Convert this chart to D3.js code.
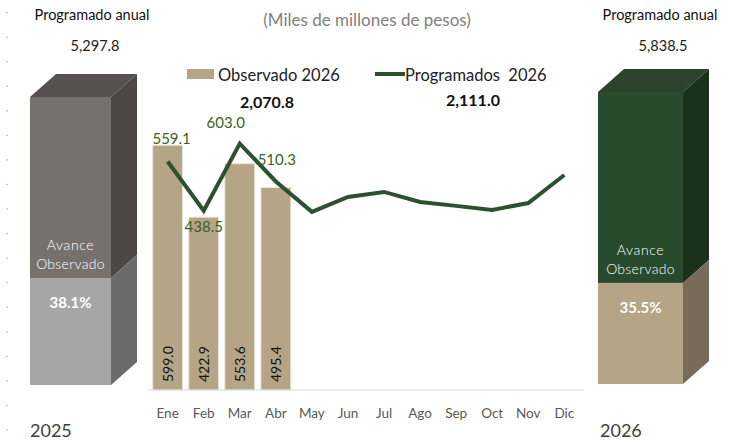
<!DOCTYPE html>
<html>
<head>
<meta charset="utf-8">
<script src="https://cdn.jsdelivr.net/npm/d3@7"></script>
<style>
  body { margin: 0; background: #fff; }
  svg { display: block; font-family: Lato, 'Open Sans', sans-serif; }
</style>
</head>
<body>
<svg width="730" height="442"></svg>
<script>
const months = ['Ene', 'Feb', 'Mar', 'Abr', 'May', 'Jun', 'Jul', 'Ago', 'Sep', 'Oct', 'Nov', 'Dic']
const observado2026 = [599.0, 422.9, 553.6, 495.4]
const programados2026 = [559.1, 438.5, 603.0, 510.3, 435.8, 472.3, 484.6, 460.2, 450.5, 440.6, 457.5, 526.0]
const labeledPoints = 4
const totalObservado = '2,070.8'
const totalProgramado = '2,111.0'
const years = ['2025', '2026']
const annual = [5297.8, 5838.5]
const avance = [38.1, 35.5]

// label nudges for the line values (dx, dy)
const lineLabelOffset = [[4, -17], [0, 21], [-14, -16], [1, -16]]

const svg = d3.select('svg')
const fmt = d3.format(',.1f')

const x = d3.scaleBand()
            .domain(months)
            .range([148, 584])
            .paddingInner(0.17)
            .paddingOuter(0.13)
const y = d3.scaleLinear().domain([0, 700]).range([390, 390 - 700 * 0.4087])

// left dashes
svg.append('g').selectAll('rect')
   .data(d3.range(18))
   .enter().append('rect')
   .attr('x', 6).attr('y', i => 12 + i * 24.55)
   .attr('width', 2).attr('height', 1.2)
   .attr('fill', '#bfbfbf')

// title
svg.append('text')
   .attr('x', 367).attr('y', 26)
   .attr('text-anchor', 'middle')
   .attr('font-size', 17).attr('fill', '#7f7f7f')
   .text('(Miles de millones de pesos)')

// legend
const leg = svg.append('g')
leg.append('rect').attr('x', 187).attr('y', 69).attr('width', 27).attr('height', 10).attr('fill', '#b5a486')
leg.append('text').attr('x', 218).attr('y', 81).attr('font-size', 16.5).attr('fill', '#222').text('Observado 2026')
leg.append('line').attr('x1', 375).attr('x2', 405).attr('y1', 74).attr('y2', 74)
   .attr('stroke', '#2b5130').attr('stroke-width', 4)
leg.append('text').attr('x', 405).attr('y', 81).attr('font-size', 16.5).attr('fill', '#222')
   .attr('xml:space', 'preserve').text('Programados  2026')
leg.append('text').attr('x', 267).attr('y', 108).attr('text-anchor', 'middle')
   .attr('font-size', 16).attr('font-weight', 'bold').attr('fill', '#111').text(totalObservado)
leg.append('text').attr('x', 473).attr('y', 106).attr('text-anchor', 'middle')
   .attr('font-size', 16).attr('font-weight', 'bold').attr('fill', '#111').text(totalProgramado)

// bars
svg.append('g').selectAll('rect')
   .data(observado2026)
   .enter().append('rect')
   .attr('x', (d, i) => x(months[i]))
   .attr('y', d => y(d))
   .attr('width', x.bandwidth())
   .attr('height', d => y(0) - y(d))
   .attr('fill', '#b5a486')
   .attr('stroke', '#ece6dc').attr('stroke-width', 1)

svg.append('g').selectAll('text')
   .data(observado2026)
   .enter().append('text')
   .attr('transform', (d, i) => `translate(${x(months[i]) + x.bandwidth() / 2 + 5},${y(0) - 8}) rotate(-90)`)
   .attr('font-size', 14).attr('fill', '#111')
   .text(d => fmt(d))

// axis line
svg.append('line')
   .attr('x1', 148).attr('x2', 584).attr('y1', y(0)).attr('y2', y(0))
   .attr('stroke', '#d9d9d9').attr('stroke-width', 1)

svg.append('g').selectAll('text')
   .data(months)
   .enter().append('text')
   .attr('x', d => x(d) + x.bandwidth() / 2)
   .attr('y', 418)
   .attr('text-anchor', 'middle')
   .attr('font-size', 13.5).attr('fill', '#595959')
   .text(d => d)

// line
const line = d3.line()
               .x((d, i) => x(months[i]) + x.bandwidth() / 2)
               .y(d => y(d))
svg.append('path')
   .datum(programados2026)
   .attr('d', line)
   .attr('fill', 'none')
   .attr('stroke', '#2b5130')
   .attr('stroke-width', 4)
   .attr('stroke-linejoin', 'miter')

svg.append('g').selectAll('text')
   .data(programados2026.slice(0, labeledPoints))
   .enter().append('text')
   .attr('x', (d, i) => x(months[i]) + x.bandwidth() / 2 + lineLabelOffset[i][0])
   .attr('y', (d, i) => y(d) + lineLabelOffset[i][1])
   .attr('text-anchor', 'middle')
   .attr('font-size', 15).attr('fill', '#3f5f2a')
   .text(d => fmt(d))

// 3D boxes
const boxes = [
  { left: 30, right: 111, top: 97, bottom: 385, cx: 92, yearX: 30,
    top1: '#77716e', side1: '#4d4845', cap: '#575251', low: '#a6a6a6', lowSide: '#6b6b6b' },
  { left: 598, right: 683, top: 92, bottom: 384, cx: 660, yearX: 600,
    top1: '#284a2d', side1: '#1c311c', cap: '#2b432c', low: '#b5a486', lowSide: '#786b57' }
]
const dx = 26, dy = -23

boxes.forEach((b, k) => {
  const g = svg.append('g')
  const h = d3.scaleLinear().domain([0, 100]).range([b.bottom, b.top])
  const split = h(avance[k] * 0.975)
  const poly = pts => g.append('polygon').attr('points', pts.map(p => p.join(',')).join(' '))

  // top cap
  poly([[b.left, b.top], [b.left + dx, b.top + dy], [b.right + dx, b.top + dy], [b.right, b.top]]).attr('fill', b.cap)
  // upper side
  poly([[b.right, b.top], [b.right + dx, b.top + dy], [b.right + dx, split + dy], [b.right, split]]).attr('fill', b.side1)
  // lower side
  poly([[b.right, split], [b.right + dx, split + dy], [b.right + dx, b.bottom + dy], [b.right, b.bottom]]).attr('fill', b.lowSide)
  // fronts
  g.append('rect').attr('x', b.left).attr('y', b.top).attr('width', b.right - b.left)
   .attr('height', split - b.top).attr('fill', b.top1)
  g.append('rect').attr('x', b.left).attr('y', split).attr('width', b.right - b.left)
   .attr('height', b.bottom - split).attr('fill', b.low)

  const mid = (b.left + b.right) / 2
  g.append('text').attr('x', mid).attr('y', split - 28).attr('text-anchor', 'middle')
   .attr('font-size', 14).attr('font-weight', 300).attr('letter-spacing', 0.6)
   .attr('fill', '#fff').text('Avance')
  g.append('text').attr('x', mid).attr('y', split - 9).attr('text-anchor', 'middle')
   .attr('font-size', 14).attr('font-weight', 300).attr('letter-spacing', 0.3)
   .attr('fill', '#fff').text('Observado')
  g.append('text').attr('x', mid).attr('y', split + 30).attr('text-anchor', 'middle')
   .attr('font-size', 15).attr('font-weight', 'bold').attr('fill', '#fff').text(avance[k].toFixed(1) + '%')

  svg.append('text').attr('x', b.cx).attr('y', 20).attr('text-anchor', 'middle')
     .attr('font-size', 14.5).attr('fill', '#111').text('Programado anual')
  svg.append('text').attr('x', b.cx + 3).attr('y', 51).attr('text-anchor', 'middle')
     .attr('font-size', 14.5).attr('fill', '#222').text(fmt(annual[k]))
  svg.append('text').attr('x', b.yearX).attr('y', 437)
     .attr('font-size', 18).attr('fill', '#404040').text(years[k])
})
</script>
</body>
</html>
